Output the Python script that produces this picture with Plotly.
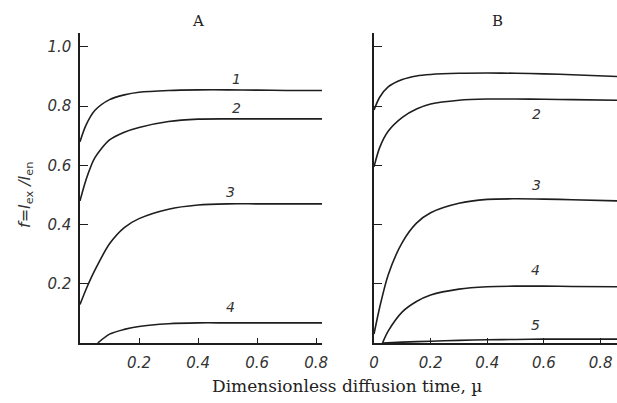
import plotly.graph_objects as go

# ---------------- data ----------------
xa = [0, 0.02, 0.05, 0.1, 0.15, 0.2, 0.3, 0.4, 0.5, 0.6, 0.7, 0.82]
a1 = [0.68, 0.735, 0.785, 0.822, 0.838, 0.847, 0.853, 0.855, 0.855, 0.854, 0.853, 0.853]
a2 = [0.48, 0.55, 0.625, 0.686, 0.712, 0.728, 0.748, 0.756, 0.757, 0.757, 0.757, 0.757]
a3 = [0.13, 0.18, 0.245, 0.335, 0.39, 0.42, 0.452, 0.466, 0.47, 0.47, 0.47, 0.47]
xa4 = [0.06, 0.1, 0.15, 0.2, 0.3, 0.4, 0.5, 0.6, 0.7, 0.82]
a4 = [0.0, 0.03, 0.046, 0.056, 0.065, 0.068, 0.068, 0.068, 0.068, 0.068]

xb = [0, 0.02, 0.05, 0.1, 0.15, 0.2, 0.3, 0.4, 0.5, 0.6, 0.7, 0.86]
b1 = [0.787, 0.83, 0.865, 0.89, 0.902, 0.907, 0.911, 0.912, 0.911, 0.909, 0.906, 0.9]
b2 = [0.595, 0.66, 0.715, 0.762, 0.79, 0.807, 0.82, 0.824, 0.824, 0.823, 0.822, 0.82]
b3 = [0.03, 0.12, 0.23, 0.34, 0.405, 0.44, 0.472, 0.485, 0.487, 0.486, 0.484, 0.48]
xb4 = [0.03, 0.05, 0.1, 0.15, 0.2, 0.3, 0.4, 0.5, 0.6, 0.7, 0.86]
b4 = [0.0, 0.04, 0.105, 0.14, 0.162, 0.182, 0.19, 0.192, 0.192, 0.191, 0.19]
xb5 = [0.03, 0.1, 0.2, 0.3, 0.4, 0.5, 0.6, 0.7, 0.86]
b5 = [0.0, 0.003, 0.006, 0.009, 0.011, 0.012, 0.013, 0.013, 0.013]

x_ticks = [0.2, 0.4, 0.6, 0.8]
x_ticks_b = [0, 0.2, 0.4, 0.6, 0.8]
x_ticklabels_b = ["0", "0.2", "0.4", "0.6", "0.8"]
y_ticks = [0.2, 0.4, 0.6, 0.8, 1.0]
y_ticklabels = ["0.2", "0.4", "0.6", "0.8", "1.0"]

labels_a = ["1", "2", "3", "4"]
labels_a_x = [0.53, 0.53, 0.51, 0.51]
labels_a_y = [0.893, 0.795, 0.51, 0.12]
labels_b = ["2", "3", "4", "5"]
labels_b_x = [0.575, 0.575, 0.57, 0.57]
labels_b_y = [0.775, 0.535, 0.245, 0.06]

INK = "#1e1e1e"

fig = go.Figure()
for xs, ys in [(xa, a1), (xa, a2), (xa, a3), (xa4, a4)]:
    fig.add_trace(go.Scatter(x=xs, y=ys, mode="lines", xaxis="x", yaxis="y",
                             line=dict(color=INK, width=1.6, shape="spline", smoothing=0.8),
                             showlegend=False, hoverinfo="skip"))
for xs, ys in [(xb, b1), (xb, b2), (xb, b3), (xb4, b4), (xb5, b5)]:
    fig.add_trace(go.Scatter(x=xs, y=ys, mode="lines", xaxis="x2", yaxis="y2",
                             line=dict(color=INK, width=1.6, shape="spline", smoothing=0.8),
                             showlegend=False, hoverinfo="skip"))

W, H = 617, 403
tickfont = dict(family="DejaVu Sans", size=15, color="#333", style="italic")
axis_common = dict(showgrid=False, zeroline=False, showline=True, linecolor=INK, linewidth=1.5,
                   ticks="inside", tickcolor=INK, tickwidth=1.2, tickfont=tickfont, fixedrange=True,
                   automargin=False)

ydom = [(H - 343) / H, (H - 33) / H]
fig.update_layout(
    width=W, height=H,
    margin=dict(l=0, r=0, t=0, b=0),
    paper_bgcolor="white", plot_bgcolor="white",
    xaxis=dict(domain=[80 / W, 322 / W], range=[0, 0.82], tickvals=x_ticks,
               ticktext=["0.2", "0.4", "0.6", "0.8"], ticklen=5, anchor="y",
               ticklabelstandoff=5, **axis_common),
    yaxis=dict(domain=ydom, range=[0, 1.047], tickvals=y_ticks, ticktext=y_ticklabels,
               ticklen=8, anchor="x", ticklabelstandoff=4, **axis_common),
    xaxis2=dict(domain=[374 / W, 1.0], range=[0, 0.858], tickvals=x_ticks_b,
                ticktext=x_ticklabels_b, ticklen=5, anchor="y2", ticklabelstandoff=5, **axis_common),
    yaxis2=dict(domain=ydom, range=[0, 1.047], tickvals=y_ticks, showticklabels=False,
                ticklen=8, anchor="x2", **axis_common),
)

lab_font = dict(family="DejaVu Sans", size=14, color="#333", style="italic")
for t, x, y in zip(labels_a, labels_a_x, labels_a_y):
    fig.add_annotation(x=x, y=y, xref="x", yref="y", text=t, showarrow=False, font=lab_font,
                       xanchor="center", yanchor="middle")
for t, x, y in zip(labels_b, labels_b_x, labels_b_y):
    fig.add_annotation(x=x, y=y, xref="x2", yref="y2", text=t, showarrow=False, font=lab_font,
                       xanchor="center", yanchor="middle")

serif = dict(family="DejaVu Serif", size=17, color="#222")
def paper_text(px, py, text, font, angle=0):
    fig.add_annotation(x=px / W, y=1 - py / H, xref="paper", yref="paper", text=text,
                       showarrow=False, font=font, textangle=angle,
                       xanchor="center", yanchor="middle")

paper_text(198, 21, "A", dict(family="DejaVu Serif", size=15, color="#222"))
paper_text(497, 21, "B", dict(family="DejaVu Serif", size=15, color="#222"))
paper_text(347, 386, "Dimensionless diffusion time, µ", serif)
paper_text(25, 195, "<i>f=I</i><sub>ex</sub> <i>/I</i><sub>en</sub>",
           dict(family="DejaVu Sans", size=16, color="#333"), angle=-90)

fig.write_html("out.html", config={"displayModeBar": False},
               post_script="document.body.style.margin='0';")
